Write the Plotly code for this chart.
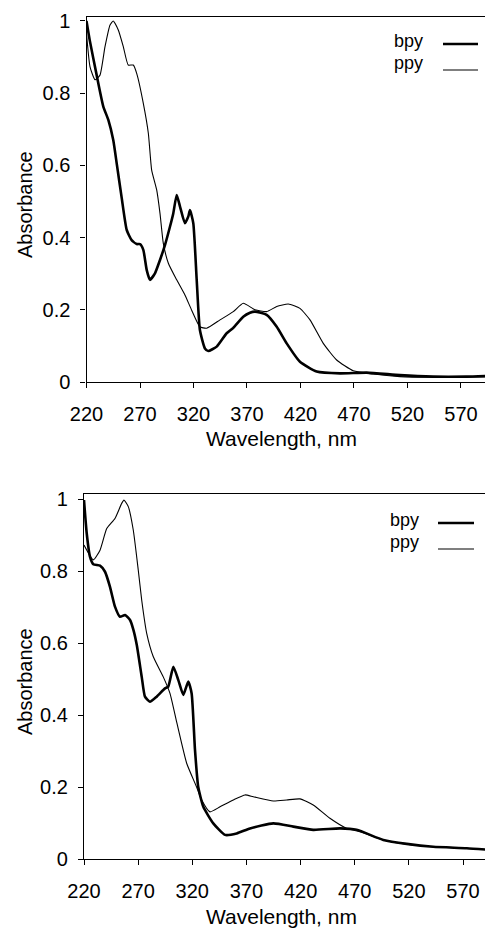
import plotly.graph_objects as go

# page has an 8px body margin, so the figure is drawn 8px in from the top-left corner
OFF = 8
W, H = 493 - OFF, 928 - OFF

# ---------------- data: top panel ----------------
top_bpy_x = [220, 223, 229.5, 235.7, 240.4, 245, 248.5, 252.9, 257.6, 262.2, 266.9, 270, 273.1, 276.3,
             279.3, 284, 288.7, 293.4, 298, 301.1, 304.3, 307.4, 312, 315.1, 316.7, 319.8, 323, 326,
             330.7, 333.8, 341.7, 351, 357.2, 366.5, 372.8, 377.5, 388.4, 397.8, 407.1, 419.5, 435.1,
             457, 481.9, 513, 544, 575, 597]
top_bpy_y = [1.0, 0.947, 0.85, 0.763, 0.726, 0.67, 0.6, 0.51, 0.421, 0.393, 0.382, 0.382, 0.366, 0.31,
             0.283, 0.301, 0.338, 0.38, 0.43, 0.467, 0.518, 0.486, 0.44, 0.458, 0.476, 0.44, 0.283, 0.144,
             0.093, 0.086, 0.098, 0.135, 0.15, 0.181, 0.192, 0.195, 0.186, 0.153, 0.107, 0.056, 0.029,
             0.024, 0.026, 0.019, 0.015, 0.015, 0.017]

top_ppy_x = [220, 223.3, 228, 232.6, 237.3, 242, 245, 249.7, 254.4, 259, 263.7, 266.9, 273.1, 277.8,
             280.9, 285.6, 288.7, 291.8, 296.5, 304.3, 312, 318.3, 326, 332.3, 344.8, 357.2, 366.5,
             377.5, 388.4, 397.8, 408.6, 419.5, 428.9, 441.3, 453.8, 469.3, 488, 513, 544, 575, 597]
top_ppy_y = [0.966, 0.873, 0.837, 0.85, 0.929, 0.989, 1.0, 0.975, 0.929, 0.878, 0.878, 0.855, 0.772, 0.689,
             0.587, 0.532, 0.467, 0.384, 0.329, 0.283, 0.241, 0.199, 0.153, 0.149, 0.172, 0.195, 0.218,
             0.2, 0.195, 0.209, 0.216, 0.204, 0.172, 0.107, 0.061, 0.031, 0.022, 0.015, 0.013, 0.013, 0.014]

# ---------------- data: bottom panel ----------------
bot_bpy_x = [220, 222.5, 225.5, 228.6, 234.8, 239.4, 244, 248.6, 253.2, 257.9, 262.5, 265.5, 268.7,
             273.3, 276.3, 280.9, 287.1, 294.8, 297.8, 302.5, 307.1, 311.7, 316.3, 319.4, 322.5, 325.5,
             330.2, 339.4, 350.2, 361, 373.3, 394.8, 413.3, 431.7, 456.4, 471.8, 496.4, 518, 542.5,
             573.4, 597.4]
bot_bpy_y = [0.997, 0.905, 0.84, 0.819, 0.815, 0.798, 0.756, 0.701, 0.673, 0.678, 0.664, 0.638, 0.595,
             0.506, 0.451, 0.437, 0.451, 0.474, 0.479, 0.534, 0.497, 0.456, 0.493, 0.46, 0.303, 0.2,
             0.145, 0.099, 0.067, 0.071, 0.085, 0.099, 0.09, 0.081, 0.085, 0.081, 0.053, 0.042, 0.034,
             0.03, 0.025]

bot_ppy_x = [220, 228.6, 234.8, 241, 248.6, 254.8, 256.9, 260.9, 265.5, 270.1, 273.3, 277.9, 284, 293.2,
             299.4, 305.6, 314.8, 324, 328.7, 336.3, 345.6, 357.9, 368.7, 376.3, 394.8, 407.2, 419.4,
             431.7, 447.1, 462.6, 474.8, 496.4, 518, 542.5, 573.4, 597.4]
bot_ppy_y = [0.872, 0.831, 0.858, 0.918, 0.946, 0.988, 0.997, 0.979, 0.914, 0.803, 0.719, 0.627, 0.562,
             0.506, 0.46, 0.38, 0.266, 0.2, 0.164, 0.131, 0.145, 0.164, 0.178, 0.173, 0.161, 0.164, 0.167,
             0.15, 0.113, 0.085, 0.076, 0.053, 0.041, 0.034, 0.03, 0.025]

x_ticks = [220, 270, 320, 370, 420, 470, 520, 570]
y_ticks = [0, 0.2, 0.4, 0.6, 0.8, 1]
y_tick_text = ["0", "0.2", "0.4", "0.6", "0.8", "1"]
series_names = ["bpy", "ppy"]

FONT = "Liberation Sans, Arial, sans-serif"

fig = go.Figure()
fig.add_trace(go.Scatter(x=top_bpy_x, y=top_bpy_y, mode="lines", line=dict(color="black", width=2.6, shape="spline", smoothing=0.5), xaxis="x", yaxis="y", showlegend=False))
fig.add_trace(go.Scatter(x=top_ppy_x, y=top_ppy_y, mode="lines", line=dict(color="black", width=1.1, shape="spline", smoothing=0.5), xaxis="x", yaxis="y", showlegend=False))
fig.add_trace(go.Scatter(x=bot_bpy_x, y=bot_bpy_y, mode="lines", line=dict(color="black", width=2.6, shape="spline", smoothing=0.5), xaxis="x2", yaxis="y2", showlegend=False))
fig.add_trace(go.Scatter(x=bot_ppy_x, y=bot_ppy_y, mode="lines", line=dict(color="black", width=1.1, shape="spline", smoothing=0.5), xaxis="x2", yaxis="y2", showlegend=False))

def px(x):
    return (x - OFF) / W

def py(y):
    return 1 - (y - OFF) / H

common_x = dict(showgrid=False, zeroline=False, showline=True, linecolor="black", linewidth=1.2,
                mirror=True, ticks="outside", ticklen=5, tickcolor="black", tickvals=x_ticks,
                tickfont=dict(size=20, color="black", family=FONT), ticklabelstandoff=9,
                automargin=False)
common_y = dict(showgrid=False, zeroline=False, showline=True, linecolor="black", linewidth=1.2,
                mirror=True, ticks="outside", ticklen=5, tickcolor="black", tickvals=y_ticks,
                ticktext=y_tick_text, tickfont=dict(size=20, color="black", family=FONT),
                ticklabelstandoff=6, automargin=False)

fig.update_layout(
    width=W, height=H, margin=dict(l=0, r=0, t=0, b=0, autoexpand=False),
    paper_bgcolor="white", plot_bgcolor="white",
    font=dict(family=FONT, color="black"),
    xaxis=dict(domain=[px(86.5), px(489)], range=[220, 596.2], anchor="y", **common_x),
    yaxis=dict(domain=[py(382), py(17)], range=[0, 1.011], anchor="x", **common_y),
    xaxis2=dict(domain=[px(84), px(493)], range=[220, 597.7], anchor="y2", **common_x),
    yaxis2=dict(domain=[py(859), py(494)], range=[0, 1.014], anchor="x2", **common_y),
)

ann = []
# axis titles
for yc in (438, 916):
    ann.append(dict(text="Wavelength, nm", x=px(281), y=py(yc), xref="paper", yref="paper",
                    showarrow=False, font=dict(size=21, family=FONT, color="black"),
                    xanchor="center", yanchor="middle"))
for yc in (205, 682):
    ann.append(dict(text="Absorbance", x=px(25), y=py(yc), xref="paper", yref="paper",
                    showarrow=False, textangle=-90, font=dict(size=20, family=FONT, color="black"),
                    xanchor="center", yanchor="middle"))

# legend entries (text left of line sample)
legend_specs = [
    (408, 41, 443, 478, 44, 2.6, series_names[0]),
    (408, 63, 443, 478, 70, 1.1, series_names[1]),
    (404, 520, 438, 474, 523, 2.6, series_names[0]),
    (404, 542, 438, 474, 549, 1.1, series_names[1]),
]
shapes = []
for tx, ty, lx0, lx1, ly, lw, name in legend_specs:
    ann.append(dict(text=name, x=px(tx), y=py(ty), xref="paper", yref="paper", showarrow=False,
                    font=dict(size=18, family=FONT, color="black"), xanchor="center", yanchor="middle"))
    shapes.append(dict(type="line", xref="paper", yref="paper", x0=px(lx0), x1=px(lx1),
                       y0=py(ly), y1=py(ly), line=dict(color="black", width=lw)))

fig.update_layout(annotations=ann, shapes=shapes)
fig.write_html("out.html")
